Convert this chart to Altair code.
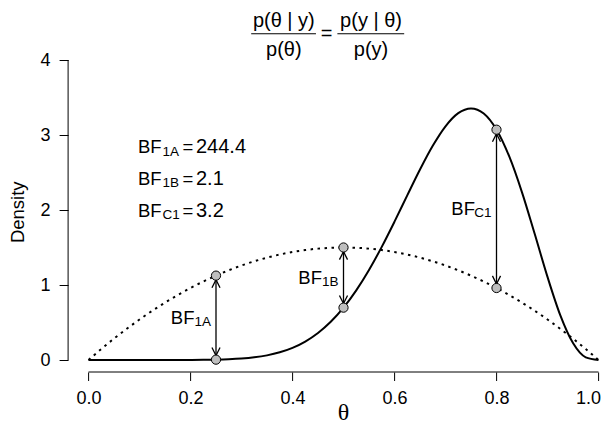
import altair as alt
import pandas as pd

# ---- data ----
theta = [0.0, 0.025, 0.05, 0.075, 0.1, 0.125, 0.15, 0.175, 0.2, 0.225,
         0.25, 0.275, 0.3, 0.325, 0.35, 0.375, 0.4, 0.425, 0.45, 0.475,
         0.5, 0.525, 0.55, 0.575, 0.6, 0.625, 0.65, 0.675, 0.7, 0.725,
         0.75, 0.775, 0.8, 0.825, 0.85, 0.875, 0.9, 0.925, 0.95, 0.975, 1.0]
prior = [0.0, 0.146, 0.285, 0.416, 0.54, 0.656, 0.765, 0.866, 0.96, 1.046,
         1.125, 1.196, 1.26, 1.316, 1.365, 1.406, 1.44, 1.466, 1.485, 1.496,
         1.5, 1.496, 1.485, 1.466, 1.44, 1.406, 1.365, 1.316, 1.26, 1.196,
         1.125, 1.046, 0.96, 0.866, 0.765, 0.656, 0.54, 0.416, 0.285, 0.146, 0.0]
posterior = [0.0, 0.0, 0.0, 0.0, 0.0, 0.0, 0.0001, 0.0002, 0.0008, 0.002,
             0.0046, 0.0098, 0.0193, 0.0356, 0.0619, 0.1024, 0.1619, 0.246, 0.3601, 0.5094,
             0.6982, 0.9287, 1.2003, 1.5085, 1.8447, 2.1947, 2.5397, 2.8559, 3.1162, 3.2917,
             3.355, 3.2858, 3.0709, 2.7137, 2.2357, 1.6794, 1.108, 0.5982, 0.2253, 0.0356, 0.0]

pt_theta = [0.25, 0.5, 0.8]
pt_prior = [1.125, 1.5, 0.96]
pt_post = [0.0046, 0.698, 3.071]
bf_sub = ["1A", "1B", "C1"]
bf_value = ["244.4", "2.1", "3.2"]

x_ticks = [0.0, 0.2, 0.4, 0.6, 0.8, 1.0]
y_ticks = [0, 1, 2, 3, 4]

title_num = ["p(θ | y)", "p(y | θ)"]
title_den = ["p(θ)", "p(y)"]

# ---- layout (annotation placement) ----
XS = alt.Scale(domain=[-0.04, 1.0], nice=False, zero=False)
YS = alt.Scale(domain=[-0.16, 4.2], nice=False, zero=False)
FONT = "Liberation Sans"

AX = alt.Axis(values=x_ticks, format=".1f", grid=False, domain=False,
              tickColor="black", tickSize=8.5, tickWidth=1,
              labelFont=FONT, labelFontSize=18, labelColor="black",
              labelPadding=9, labelFlush=3, labelFlushOffset=2,
              labelOverlap=False, labelBound=False, title=None)
AY = alt.Axis(values=y_ticks, format="d", grid=False, domain=False,
              tickColor="black", tickSize=9, tickWidth=1,
              labelFont=FONT, labelFontSize=18, labelColor="black",
              labelPadding=9, labelFlush=False, labelOverlap=False,
              title=None)

stat_x = 0.1
stat_y = [2.84, 2.42, 1.99]
frac_x = [0.383, 0.554]
frac_x0 = [0.319, 0.488]
frac_x1 = [0.446, 0.619]
num_y, line_y, den_y = 4.515, 4.35, 4.13


def X(field="x"):
    return alt.X(f"{field}:Q", scale=XS, axis=AX)


def Y(field="y"):
    return alt.Y(f"{field}:Q", scale=YS, axis=AY)


def text_layer(df, dx=0, dy=0, size=18.5, align="left", font=FONT, angle=0):
    return alt.Chart(df).mark_text(
        dx=dx, dy=dy, fontSize=size, align=align, baseline="middle",
        font=font, angle=angle, color="black",
    ).encode(x=X(), y=Y(), text="t:N")


curves = pd.DataFrame({"theta": theta, "prior": prior, "posterior": posterior})

post_line = alt.Chart(curves).mark_line(
    color="black", strokeWidth=2, interpolate="monotone"
).encode(x=X("theta"), y=Y("posterior"))

prior_line = alt.Chart(curves).mark_line(
    color="black", strokeWidth=2, strokeDash=[2.5, 4.5], interpolate="monotone"
).encode(x=X("theta"), y=Y("prior"))

# axis lines limited to the tick range (R style)
xline = alt.Chart(pd.DataFrame({"x": [min(x_ticks)], "x2": [max(x_ticks)], "y": [YS.domain[0]]})).mark_rule(
    color="black", strokeWidth=1).encode(x=X(), x2="x2:Q", y=Y())
yline = alt.Chart(pd.DataFrame({"x": [XS.domain[0]], "y": [min(y_ticks)], "y2": [max(y_ticks)]})).mark_rule(
    color="black", strokeWidth=1).encode(x=X(), y=Y(), y2="y2:Q")

# arrows
arr = pd.DataFrame({
    "x": pt_theta,
    "top": [max(a, b) for a, b in zip(pt_prior, pt_post)],
    "bot": [min(a, b) for a, b in zip(pt_prior, pt_post)],
})
shaft = alt.Chart(arr).mark_rule(color="black", strokeWidth=1.3).encode(
    x=X(), y=Y("top"), y2="bot:Q")
UP = "M -0.45 1.35 L 0 0.45 L 0.45 1.35"
DOWN = "M -0.45 -1.35 L 0 -0.45 L 0.45 -1.35"
head_up = alt.Chart(arr).mark_point(shape=UP, size=324, filled=False, stroke="black",
                                    strokeWidth=1.3, opacity=1).encode(x=X(), y=Y("top"))
head_down = alt.Chart(arr).mark_point(shape=DOWN, size=324, filled=False, stroke="black",
                                      strokeWidth=1.3, opacity=1).encode(x=X(), y=Y("bot"))

pts = pd.DataFrame({"x": pt_theta + pt_theta, "y": pt_prior + pt_post})
points = alt.Chart(pts).mark_point(shape="circle", filled=True, fill="#bebebe",
                                   stroke="black", strokeWidth=1, size=85,
                                   opacity=1).encode(x=X(), y=Y())

# arrow labels
mid = pd.DataFrame({
    "x": pt_theta,
    "y": [(a + b) / 2 for a, b in zip(pt_prior, pt_post)],
})
arrow_bf = text_layer(mid.assign(t=["BF"] * 3), dx=-21.5, align="right")
arrow_sub = text_layer(mid.assign(t=bf_sub), dx=-5, dy=4.5, size=13.5, align="right")

# stats block
st = pd.DataFrame({"x": [stat_x] * 3, "y": stat_y})
stat_bf = text_layer(st.assign(t=["BF"] * 3), dx=-1.5)
stat_sub = text_layer(st.assign(t=bf_sub), dx=23, dy=4.5, size=13.5)
stat_eq = text_layer(st.assign(t=["="] * 3), dx=43)
stat_val = text_layer(st.assign(t=bf_value), dx=56.5, size=20)

# title as two fractions
num = text_layer(pd.DataFrame({"x": frac_x, "y": [num_y] * 2, "t": title_num}), size=20, align="center")
den = text_layer(pd.DataFrame({"x": frac_x, "y": [den_y] * 2, "t": title_den}), size=20, align="center")
eq = text_layer(pd.DataFrame({"x": [(frac_x1[0] + frac_x0[1]) / 2], "y": [line_y], "t": ["="]}),
                size=20, align="center")
bars = alt.Chart(pd.DataFrame({"x": frac_x0, "x2": frac_x1, "y": [line_y] * 2})).mark_rule(
    color="black", strokeWidth=1).encode(x=X(), x2="x2:Q", y=Y())

# axis titles
xtitle = text_layer(pd.DataFrame({"x": [0.5], "y": [-0.70], "t": ["θ"]}), size=24,
                    align="center", font="Liberation Serif")
ytitle = text_layer(pd.DataFrame({"x": [-0.139], "y": [1.97], "t": ["Density"]}), size=18.5,
                    align="center", angle=270)

chart = alt.layer(
    post_line, prior_line, xline, yline, shaft, head_up, head_down, points,
    arrow_bf, arrow_sub, stat_bf, stat_sub, stat_eq, stat_val,
    num, den, eq, bars, xtitle, ytitle,
).properties(
    width=530.4, height=327,
    padding={"left": 60.1, "top": 37, "right": 2.5, "bottom": 51},
    autosize=alt.AutoSizeParams(type="none"),
    background="white",
).configure_view(stroke=None)

chart.save("out.html", embed_options={"renderer": "svg", "actions": False})
